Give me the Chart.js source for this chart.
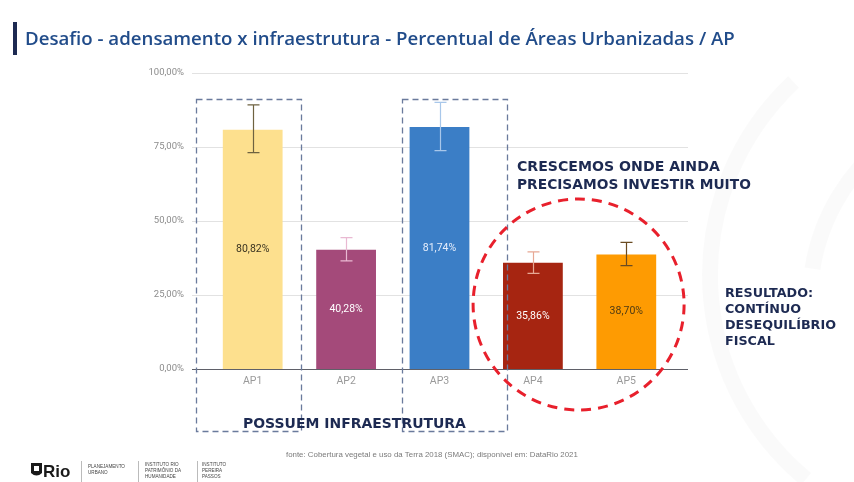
<!DOCTYPE html>
<html>
<head>
<meta charset="utf-8">
<script src="https://cdn.jsdelivr.net/npm/chart.js@4.4.1/dist/chart.umd.min.js"></script>
<style>
  html, body { margin: 0; padding: 0; background: #ffffff; }
  #wrap { width: 854px; height: 482px; position: relative; }
</style>
</head>
<body>
<div id="wrap"><canvas id="c" width="854" height="482"></canvas></div>
<script>
// ---- DATA ----
const categories = ['AP1', 'AP2', 'AP3', 'AP4', 'AP5'];
const values = [80.82, 40.28, 81.74, 35.86, 38.70];
const errLow = [73.1, 36.5, 73.8, 32.3, 34.9];
const errHigh = [89.2, 44.4, 90.1, 39.6, 42.8];
const yTicks = [0, 25, 50, 75, 100];
const valueLabels = ['80,82%', '40,28%', '81,74%', '35,86%', '38,70%'];
const titleText = 'Desafio - adensamento x infraestrutura - Percentual de Áreas Urbanizadas / AP';
const noteTop = ['CRESCEMOS ONDE AINDA', 'PRECISAMOS INVESTIR MUITO'];
const noteRight = ['RESULTADO:', 'CONTÍNUO', 'DESEQUILÍBRIO', 'FISCAL'];
const noteBottom = 'POSSUEM INFRAESTRUTURA';
const sourceText = 'fonte: Cobertura vegetal e uso da Terra 2018 (SMAC); disponível em: DataRio 2021';

// ---- STYLES ----
const barColors = ['#FDE08E', '#A44A7A', '#3B7EC6', '#A62511', '#FE9B02'];
const errColors = ['#6e6240', '#e9b9d2', '#a8c7ea', '#e7a894', '#6a4b22'];
const labelColors = ['#3a3320', '#ffffff', '#e6eefc', '#ffffff', '#4d3a14'];
const NAVY = '#1d2a52';

function fmtPct(v) { return v.toFixed(2).replace('.', ',') + '%'; }

function fitText(ctx, text, x, y, targetW, weight, family, align) {
  ctx.font = weight + ' 20px ' + family;
  const w = ctx.measureText(text).width;
  const size = 20 * targetW / w;
  ctx.font = weight + ' ' + size.toFixed(2) + 'px ' + family;
  ctx.textAlign = align || 'left';
  ctx.fillText(text, x, y);
  return size;
}

const decor = {
  id: 'decor',
  beforeDraw(chart) {
    const ctx = chart.ctx;
    ctx.save();
    ctx.fillStyle = '#ffffff';
    ctx.fillRect(0, 0, chart.width, chart.height);
    // faint watermark swooshes
    ctx.strokeStyle = 'rgba(0,0,0,0.018)';
    ctx.lineWidth = 16;
    ctx.beginPath();
    ctx.arc(975, 275, 265, Math.PI * 0.72, Math.PI * 1.26);
    ctx.stroke();
    ctx.beginPath();
    ctx.arc(1010, 300, 200, Math.PI * 1.05, Math.PI * 1.3);
    ctx.stroke();
    ctx.restore();
  },
  beforeDatasetsDraw(chart) {
    const ctx = chart.ctx, ys = chart.scales.y, a = chart.chartArea;
    ctx.save();
    ctx.strokeStyle = '#e2e2e2';
    ctx.lineWidth = 1;
    yTicks.forEach(t => {
      if (t === 0) return;
      const py = Math.round(ys.getPixelForValue(t)) + 0.5;
      ctx.beginPath();
      ctx.moveTo(a.left - 14, py);
      ctx.lineTo(a.right + 15, py);
      ctx.stroke();
    });
    ctx.restore();
  },
  afterDatasetsDraw(chart) {
    const ctx = chart.ctx, ys = chart.scales.y, xs = chart.scales.x, a = chart.chartArea;
    ctx.save();
    // zero line
    const zy = Math.round(ys.getPixelForValue(0)) + 0.5;
    ctx.strokeStyle = '#5f6068';
    ctx.lineWidth = 1.2;
    ctx.beginPath();
    ctx.moveTo(a.left - 14, zy);
    ctx.lineTo(a.right + 15, zy);
    ctx.stroke();
    // error bars
    categories.forEach((c, i) => {
      const px = Math.round(xs.getPixelForValue(i)) + 0.5;
      const hi = ys.getPixelForValue(errHigh[i]);
      const lo = ys.getPixelForValue(errLow[i]);
      ctx.strokeStyle = errColors[i];
      ctx.lineWidth = 1.2;
      ctx.beginPath();
      ctx.moveTo(px, hi); ctx.lineTo(px, lo);
      ctx.moveTo(px - 6, hi); ctx.lineTo(px + 6, hi);
      ctx.moveTo(px - 6, lo); ctx.lineTo(px + 6, lo);
      ctx.stroke();
    });
    // value labels centred in bars
    ctx.font = '10.5px Roboto, "DejaVu Sans", sans-serif';
    ctx.textAlign = 'center';
    ctx.textBaseline = 'middle';
    categories.forEach((c, i) => {
      const px = xs.getPixelForValue(i);
      const py = (ys.getPixelForValue(values[i]) + ys.getPixelForValue(0)) / 2;
      ctx.fillStyle = labelColors[i];
      ctx.fillText(valueLabels[i], px, py);
    });
    ctx.restore();
  },
  afterDraw(chart) {
    const ctx = chart.ctx, ys = chart.scales.y, xs = chart.scales.x;
    ctx.save();
    // title bar + title
    ctx.fillStyle = NAVY;
    ctx.fillRect(13, 22, 4, 33);
    ctx.fillStyle = '#214c8a';
    ctx.textBaseline = 'alphabetic';
    fitText(ctx, titleText, 25, 45, 710, '600', '"Open Sans", sans-serif');

    // dashed rectangles around AP1 and AP3
    ctx.strokeStyle = '#6a7a9c';
    ctx.lineWidth = 1.3;
    ctx.setLineDash([6, 4]);
    const r1 = xs.getPixelForValue(0), r3 = xs.getPixelForValue(2);
    ctx.strokeRect(Math.round(r1 - 57) + 0.5, 99.5, 105, 332);
    ctx.strokeRect(Math.round(r3 - 38) + 0.5, 99.5, 105, 332);
    ctx.setLineDash([]);

    // red dashed circle around AP4/AP5
    const cx = (xs.getPixelForValue(3) + xs.getPixelForValue(4)) / 2;
    ctx.strokeStyle = '#E8202C';
    ctx.lineWidth = 3;
    ctx.setLineDash([10, 7]);
    ctx.beginPath();
    ctx.ellipse(cx - 1, 304.5, 105.5, 105.5, 0, 0, Math.PI * 2);
    ctx.stroke();
    ctx.setLineDash([]);

    // annotation texts
    ctx.fillStyle = NAVY;
    ctx.textBaseline = 'alphabetic';
    const fam = '"DejaVu Sans", sans-serif';
    fitText(ctx, noteBottom, 243, 428, 223, 'bold', fam);
    fitText(ctx, noteTop[0], 517, 171, 203, 'bold', fam);
    fitText(ctx, noteTop[1], 517, 189, 234, 'bold', fam);
    ctx.font = 'bold 12px ' + fam;
    ctx.textAlign = 'left';
    const rw = ctx.measureText(noteRight[2]).width;
    const rs = 12 * 111 / rw;
    ctx.font = 'bold ' + rs.toFixed(2) + 'px ' + fam;
    const ry = [297, 313, 329, 345];
    noteRight.forEach((t, i) => ctx.fillText(t, 725, ry[i]));

    // source
    ctx.fillStyle = '#7a7a7a';
    fitText(ctx, sourceText, 286, 457, 292, 'normal', '"Liberation Sans Narrow", "Liberation Sans", sans-serif');

    // logos
    ctx.fillStyle = '#1a1a1a';
    ctx.beginPath();
    ctx.moveTo(31, 463); ctx.lineTo(42, 463); ctx.lineTo(42, 473);
    ctx.quadraticCurveTo(36.5, 478, 31, 473); ctx.closePath();
    ctx.fill();
    ctx.fillStyle = '#ffffff';
    ctx.fillRect(34, 466, 5, 5);
    ctx.fillStyle = '#1a1a1a';
    ctx.font = 'bold 17px "Liberation Sans", sans-serif';
    ctx.textAlign = 'left';
    ctx.fillText('Rio', 43, 477);
    ctx.strokeStyle = '#bbbbbb';
    ctx.lineWidth = 1;
    [81.5, 138.5, 197.5].forEach(x => { ctx.beginPath(); ctx.moveTo(x, 461); ctx.lineTo(x, 482); ctx.stroke(); });
    ctx.fillStyle = '#444';
    ctx.font = '4.6px "Liberation Sans", sans-serif';
    ctx.fillText('PLANEJAMENTO', 88, 468); ctx.fillText('URBANO', 88, 474);
    ctx.fillText('INSTITUTO RIO', 145, 466); ctx.fillText('PATRIMÔNIO DA', 145, 472); ctx.fillText('HUMANIDADE', 145, 478);
    ctx.fillText('INSTITUTO', 202, 466); ctx.fillText('PEREIRA', 202, 472); ctx.fillText('PASSOS', 202, 478);
    ctx.restore();
  }
};

new Chart(document.getElementById('c'), {
  type: 'bar',
  data: {
    labels: categories,
    datasets: [{
      data: values,
      backgroundColor: barColors,
      borderWidth: 0,
      barPercentage: 0.64,
      categoryPercentage: 1.0
    }]
  },
  options: {
    responsive: false,
    animation: false,
    devicePixelRatio: 1,
    layout: { padding: { top: 73, right: 181, left: 0, bottom: 0 } },
    plugins: { legend: { display: false }, tooltip: { enabled: false } },
    scales: {
      x: {
        grid: { display: false, drawTicks: false },
        border: { display: false },
        ticks: { color: '#9a9a9a', font: { size: 10.5, family: 'Roboto, sans-serif' }, padding: 6 },
        afterFit(s) { s.height = 113; }
      },
      y: {
        min: 0, max: 100,
        afterBuildTicks(s) { s.ticks = yTicks.map(v => ({ value: v })); },
        grid: { display: false, drawTicks: false },
        border: { display: false },
        ticks: { color: '#8c8c8c', font: { size: 9.5, family: 'Roboto, sans-serif' }, padding: 22, callback: v => fmtPct(v) },
        afterFit(s) { s.width = 206; }
      }
    }
  },
  plugins: [decor]
});
</script>
</body>
</html>
